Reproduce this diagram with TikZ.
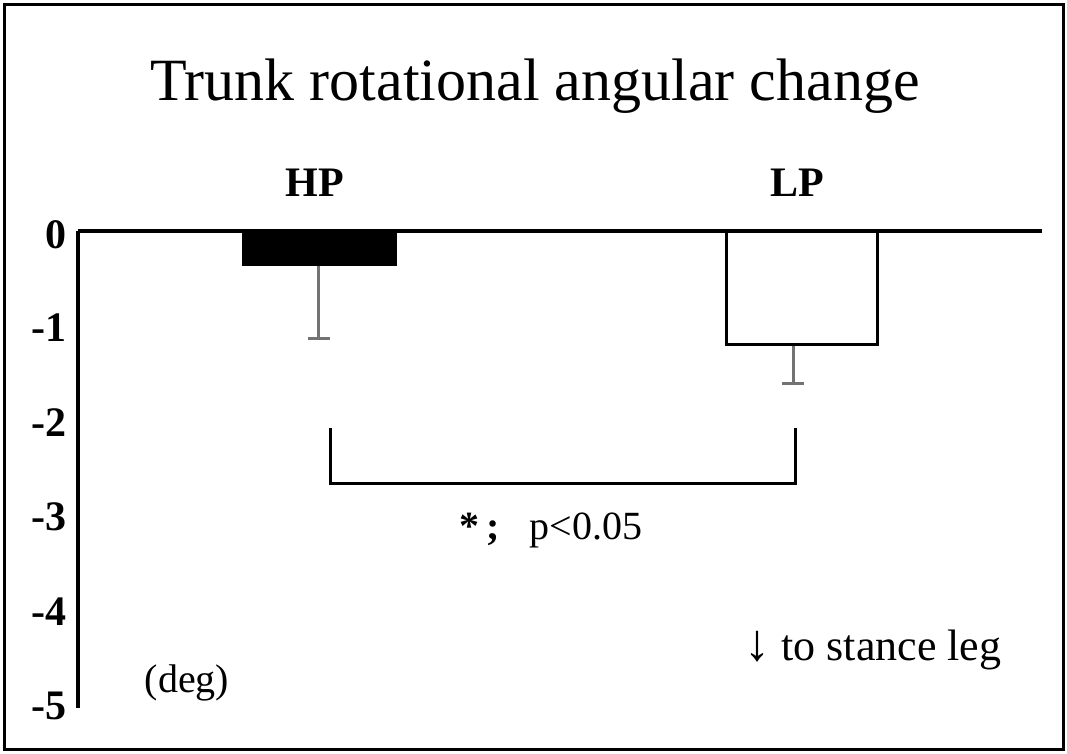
\documentclass[tikz,border=0pt]{standalone}
\usepackage{fontspec}
\setmainfont{Liberation Serif}
\begin{document}
\begin{tikzpicture}[x=1pt,y=-1pt,
  axisline/.style={line width=4pt},
  errbar/.style={line width=3pt,draw=gray!90!black},
  ticklabel/.style={anchor=east,font=\fontsize{42}{44}\selectfont\bfseries}]
  \useasboundingbox (0,0) rectangle (1067,753);
  \draw[line width=3pt] (4,4) rectangle (1063,749);

  \node (title) at (535,86) {\fontsize{60}{64}\selectfont Trunk rotational angular change};
  \node (hp) at (315,183) {\fontsize{42}{44}\selectfont\bfseries HP};
  \node (lp) at (797,183) {\fontsize{42}{44}\selectfont\bfseries LP};

  % axes
  \draw[axisline] (78,231) -- (1042,231);
  \draw[axisline] (78,231) -- (78,708);
  \foreach \v/\yy in {0/235,-1/328,-2/423,-3/517,-4/612,-5/706}
    \node[ticklabel] at (70,\yy) {\v};

  % bars
  \draw[errbar] (318,265) -- (318,338) (308,338) -- (330,338);
  \fill (242,231) rectangle (397,266);
  \draw[errbar] (793,344) -- (793,383) (782,383) -- (804,383);
  \draw[line width=3pt] (726,231) rectangle (877,344);

  % significance
  \draw[line width=3pt] (330,428) -- (330,483) -- (795,483) -- (795,428);
  \node (sig) at (551,530) {\fontsize{40}{42}\selectfont\textbf{*\,;}\ \ \ p<0.05};
  \node (dir) at (873,650) {\fontsize{44}{46}\selectfont{\fontsize{52}{54}\selectfont ↓} to stance leg};
  \node (unit) at (187,683) {\fontsize{40}{42}\selectfont (deg)};
\end{tikzpicture}
\end{document}
